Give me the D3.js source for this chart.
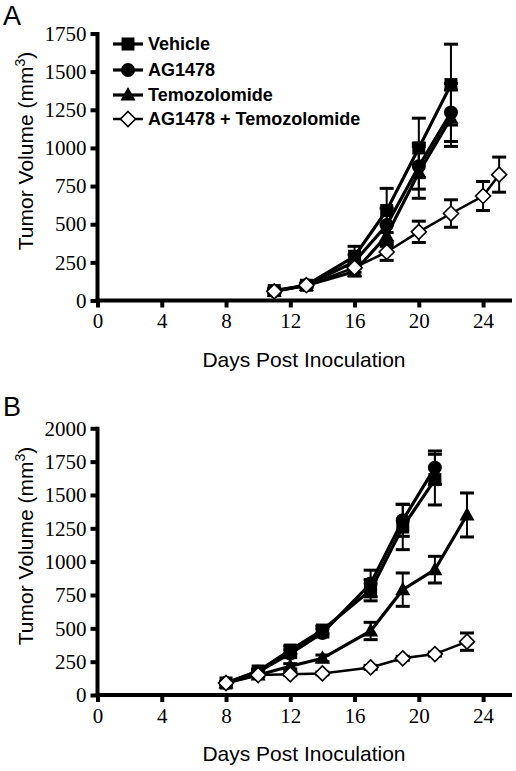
<!DOCTYPE html>
<html>
<head>
<meta charset="utf-8">
<script src="https://cdn.jsdelivr.net/npm/d3@7"></script>
<style>
  html, body { margin: 0; padding: 0; background: #fff; }
  svg { display: block; }
</style>
</head>
<body>
<svg id="chart" width="516" height="771"></svg>
<script>
// ---------- DATA ----------
const seriesNames = ["Vehicle", "AG1478", "Temozolomide", "AG1478 + Temozolomide"];
const seriesShapes = ["square", "circle", "triangle", "diamond"];

// Panel A
const aDaysVehicle = [11, 13, 16, 18, 20, 22];
const aVehicle     = [65, 100, 290, 590, 1000, 1415];
const aVehicleErr  = [15, 15, 65, 145, 195, 265];
const aDaysAG      = [11, 13, 16, 18, 20, 22];
const aAG          = [62, 100, 255, 495, 880, 1232];
const aAGErr       = [10, 10, 45, 110, 150, 190];
const aDaysTem     = [11, 13, 16, 18, 20, 22];
const aTem         = [60, 98, 190, 425, 840, 1195];
const aTemErr      = [10, 10, 30, 70, 170, 185];
const aDaysCombo   = [11, 13, 16, 18, 20, 22, 24, 25];
const aCombo       = [60, 100, 215, 318, 450, 570, 685, 825];
const aComboErr    = [10, 10, 30, 55, 70, 90, 95, 115];

// Panel B
const bDaysVehicle = [8, 10, 12, 14, 17, 19, 21];
const bVehicle     = [90, 180, 337, 487, 786, 1260, 1615];
const bVehicleErr  = [10, 15, 30, 30, 80, 170, 190];
const bDaysAG      = [8, 10, 12, 14, 17, 19, 21];
const bAG          = [90, 175, 310, 465, 836, 1310, 1705];
const bAGErr       = [10, 15, 30, 30, 100, 120, 125];
const bDaysTem     = [8, 10, 12, 14, 17, 19, 21, 23];
const bTem         = [90, 150, 215, 275, 480, 790, 940, 1350];
const bTemErr      = [10, 15, 20, 25, 65, 125, 100, 165];
const bDaysCombo   = [8, 10, 12, 14, 17, 19, 21, 23];
const bCombo       = [90, 150, 155, 162, 207, 275, 307, 400];
const bComboErr    = [10, 10, 10, 10, 15, 15, 15, 65];

const xTicks  = [0, 4, 8, 12, 16, 20, 24];
const aYTicks = [0, 250, 500, 750, 1000, 1250, 1500, 1750];
const bYTicks = [0, 250, 500, 750, 1000, 1250, 1500, 1750, 2000];

const xTitle = "Days Post Inoculation";

// ---------- DRAW ----------
const svg = d3.select("#chart");
const serif = "'Liberation Serif', 'Times New Roman', serif";
const sans = "'Liberation Sans', Arial, sans-serif";

function zip(days, vals, errs) {
  return days.map((d, i) => ({ x: d, y: vals[i], e: errs[i] }));
}

function drawMarker(g, shape, cx, cy) {
  if (shape === "square") {
    g.append("rect").attr("x", cx - 6.5).attr("y", cy - 6.5).attr("width", 13).attr("height", 13)
      .attr("fill", "#000");
  } else if (shape === "circle") {
    g.append("circle").attr("cx", cx).attr("cy", cy).attr("r", 7).attr("fill", "#000");
  } else if (shape === "triangle") {
    g.append("path").attr("d", `M${cx},${cy - 8}L${cx + 7.5},${cy + 5.5}L${cx - 7.5},${cy + 5.5}Z`)
      .attr("fill", "#000");
  } else {
    g.append("path").attr("d", `M${cx},${cy - 7.5}L${cx + 7.5},${cy}L${cx},${cy + 7.5}L${cx - 7.5},${cy}Z`)
      .attr("fill", "#fff").attr("stroke", "#000").attr("stroke-width", 1.6);
  }
}

function drawPanel(cfg) {
  const x = d3.scaleLinear().domain([0, 25.8]).range([97.5, 512]);
  const y = d3.scaleLinear().domain([0, cfg.yMax]).range([cfg.y0, cfg.yTop]);
  const g = svg.append("g");

  // axes
  const yAxis = d3.axisLeft(y).tickValues(cfg.yTicks).tickSize(7).tickSizeOuter(0).tickPadding(4)
    .tickFormat(d3.format("d"));
  const ya = g.append("g").attr("transform", `translate(${x(0)},0)`).call(yAxis);
  ya.select(".domain").attr("stroke", "#000").attr("stroke-width", 4)
    .attr("d", `M0,${y(cfg.yMax) - 1.5}V${y(0)}`);
  ya.selectAll(".tick line").attr("stroke", "#000").attr("stroke-width", 4);
  ya.selectAll(".tick text").attr("font-family", serif).attr("font-size", 21).attr("fill", "#000");

  const xAxis = d3.axisBottom(x).tickValues(xTicks).tickSize(7).tickSizeOuter(0).tickPadding(6);
  const xa = g.append("g").attr("transform", `translate(0,${y(0)})`).call(xAxis);
  xa.select(".domain").attr("stroke", "#000").attr("stroke-width", 4)
    .attr("d", `M${x(0) - 2},0H${x(25.8)}`);
  xa.selectAll(".tick line").attr("stroke", "#000").attr("stroke-width", 4);
  xa.selectAll(".tick text").attr("font-family", serif).attr("font-size", 21).attr("fill", "#000");

  // titles
  g.append("text").attr("x", 304).attr("y", y(0) + 66).attr("text-anchor", "middle")
    .attr("font-family", sans).attr("font-size", 21).attr("fill", "#000").text(xTitle);
  const yt = g.append("text")
    .attr("transform", `translate(33,${cfg.yTitleY}) rotate(-90)`)
    .attr("text-anchor", "middle").attr("font-family", sans).attr("font-size", 21).attr("fill", "#000");
  yt.append("tspan").text("Tumor Volume (mm");
  yt.append("tspan").attr("font-size", 14).attr("dy", -8).text("3");
  yt.append("tspan").attr("dy", 8).text(")");

  g.append("text").attr("x", 3).attr("y", cfg.letterY).attr("font-family", sans)
    .attr("font-size", 27).attr("fill", "#000").text(cfg.letter);

  const line = d3.line().x(d => x(d.x)).y(d => y(d.y));

  // error bars + lines
  cfg.series.forEach((s) => {
    const eg = g.append("g");
    s.data.forEach(d => {
      eg.append("line").attr("x1", x(d.x)).attr("x2", x(d.x)).attr("y1", y(d.y - d.e)).attr("y2", y(d.y + d.e))
        .attr("stroke", "#000").attr("stroke-width", 2);
      [d.y - d.e, d.y + d.e].forEach(v => {
        eg.append("line").attr("x1", x(d.x) - 7).attr("x2", x(d.x) + 7).attr("y1", y(v)).attr("y2", y(v))
          .attr("stroke", "#000").attr("stroke-width", 3);
      });
    });
    g.append("path").datum(s.data).attr("d", line).attr("fill", "none")
      .attr("stroke", "#000").attr("stroke-width", s.shape === "diamond" ? 2.5 : 3.2);
  });
  // markers
  cfg.series.forEach((s) => {
    const mg = g.append("g");
    s.data.forEach(d => drawMarker(mg, s.shape, x(d.x), y(d.y)));
  });

  // legend
  if (cfg.legend) {
    const rows = [44, 70, 95, 119];
    seriesNames.forEach((name, i) => {
      const lg = g.append("g");
      lg.append("line").attr("x1", 113).attr("x2", 143).attr("y1", rows[i]).attr("y2", rows[i])
        .attr("stroke", "#000").attr("stroke-width", seriesShapes[i] === "diamond" ? 2.5 : 3.2);
      drawMarker(lg, seriesShapes[i], 128, rows[i]);
      lg.append("text").attr("x", 148).attr("y", rows[i] + 6).attr("font-family", sans)
        .attr("font-weight", "bold").attr("font-size", 18).attr("fill", "#000").text(name);
    });
  }
}

drawPanel({
  letter: "A", letterY: 25, yMax: 1750, y0: 300.5, yTop: 33.5, yTicks: aYTicks, yTitleY: 151, legend: true,
  series: [
    { shape: "square",   data: zip(aDaysVehicle, aVehicle, aVehicleErr) },
    { shape: "circle",   data: zip(aDaysAG, aAG, aAGErr) },
    { shape: "triangle", data: zip(aDaysTem, aTem, aTemErr) },
    { shape: "diamond",  data: zip(aDaysCombo, aCombo, aComboErr) }
  ]
});

drawPanel({
  letter: "B", letterY: 416, yMax: 2000, y0: 695, yTop: 428.3, yTicks: bYTicks, yTitleY: 546, legend: false,
  series: [
    { shape: "square",   data: zip(bDaysVehicle, bVehicle, bVehicleErr) },
    { shape: "circle",   data: zip(bDaysAG, bAG, bAGErr) },
    { shape: "triangle", data: zip(bDaysTem, bTem, bTemErr) },
    { shape: "diamond",  data: zip(bDaysCombo, bCombo, bComboErr) }
  ]
});
</script>
</body>
</html>
